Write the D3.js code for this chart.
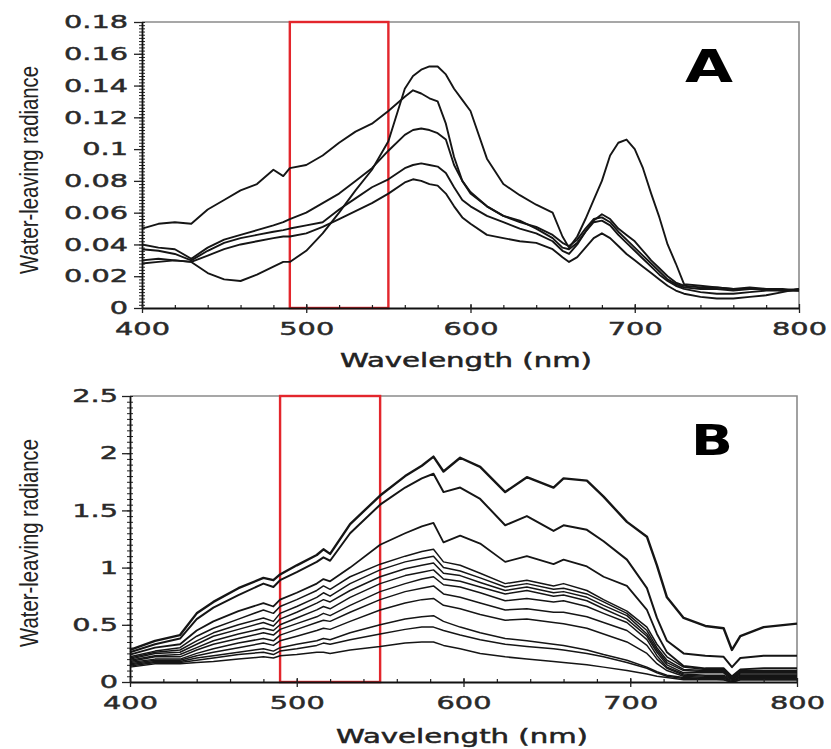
<!DOCTYPE html>
<html>
<head>
<meta charset="utf-8">
<script src="https://cdn.jsdelivr.net/npm/d3@7"></script>
<style>
  html, body { margin: 0; padding: 0; background: #fff; }
  svg { display: block; }
</style>
</head>
<body>
<svg id="chart" width="831" height="749"></svg>
<script>
// ---------------- DATA ----------------
// Panel A wavelengths (nm)
const wavelengthsA = [400,410,420,430,440,450,460,470,480,486,490,500,510,520,530,540,550,560,565,570,575,580,585,590,595,600,610,620,630,640,650,656,660,665,670,675,680,685,690,695,700,705,710,715,720,725,730,740,750,760,770,780,790,800];
const seriesA1 = [0.050,0.053,0.054,0.053,0.062,0.068,0.074,0.078,0.087,0.083,0.088,0.090,0.096,0.104,0.111,0.116,0.124,0.133,0.137,0.135,0.132,0.130,0.116,0.095,0.080,0.072,0.064,0.058,0.055,0.050,0.044,0.038,0.037,0.041,0.048,0.055,0.059,0.056,0.050,0.046,0.042,0.036,0.030,0.025,0.020,0.016,0.014,0.013,0.013,0.012,0.012,0.012,0.011,0.011];
const seriesA2 = [0.030,0.031,0.030,0.029,0.022,0.018,0.017,0.021,0.026,0.029,0.029,0.036,0.047,0.060,0.074,0.087,0.105,0.138,0.146,0.150,0.152,0.152,0.147,0.138,0.131,0.124,0.094,0.078,0.071,0.065,0.060,0.045,0.038,0.045,0.056,0.068,0.080,0.096,0.104,0.106,0.100,0.088,0.072,0.057,0.040,0.028,0.015,0.014,0.013,0.012,0.013,0.012,0.012,0.011];
const seriesA3 = [0.040,0.038,0.037,0.031,0.038,0.043,0.046,0.049,0.052,0.054,0.056,0.060,0.066,0.072,0.080,0.088,0.099,0.109,0.112,0.113,0.112,0.110,0.106,0.090,0.080,0.073,0.064,0.058,0.054,0.051,0.046,0.041,0.039,0.043,0.050,0.056,0.057,0.054,0.048,0.043,0.038,0.033,0.028,0.023,0.018,0.015,0.013,0.012,0.012,0.011,0.012,0.012,0.011,0.011];
const seriesA4 = [0.037,0.036,0.034,0.030,0.036,0.041,0.044,0.046,0.048,0.049,0.050,0.052,0.054,0.062,0.069,0.076,0.081,0.088,0.090,0.091,0.090,0.089,0.085,0.076,0.068,0.064,0.058,0.054,0.050,0.047,0.042,0.036,0.034,0.040,0.048,0.054,0.055,0.052,0.046,0.041,0.036,0.031,0.026,0.021,0.017,0.014,0.012,0.010,0.009,0.009,0.010,0.011,0.011,0.012];
const seriesA5 = [0.028,0.029,0.030,0.029,0.033,0.037,0.040,0.042,0.044,0.045,0.045,0.047,0.051,0.056,0.061,0.066,0.072,0.079,0.081,0.080,0.078,0.077,0.072,0.064,0.057,0.053,0.046,0.044,0.042,0.041,0.037,0.032,0.029,0.032,0.038,0.044,0.047,0.044,0.039,0.034,0.030,0.026,0.022,0.018,0.014,0.011,0.009,0.007,0.006,0.006,0.007,0.008,0.010,0.012];

// Panel B wavelengths (nm)
const wavelengthsB = [400,415,430,440,450,465,480,486,490,500,512,516,520,532,550,565,575,582,588,598,610,625,638,654,660,674,684,698,710,716,722,732,745,756,761,766,780,800];
const seriesB1 = [0.28,0.36,0.41,0.60,0.70,0.82,0.91,0.89,0.94,1.02,1.11,1.16,1.12,1.38,1.63,1.80,1.89,1.97,1.84,1.96,1.88,1.66,1.79,1.70,1.78,1.76,1.62,1.40,1.27,1.02,0.74,0.56,0.49,0.47,0.28,0.40,0.48,0.51];
const seriesB2 = [0.26,0.33,0.38,0.55,0.65,0.76,0.86,0.83,0.89,0.96,1.05,1.09,1.06,1.30,1.55,1.70,1.78,1.82,1.66,1.70,1.60,1.37,1.45,1.32,1.37,1.33,1.23,1.07,0.82,0.56,0.36,0.25,0.23,0.22,0.13,0.21,0.23,0.23];
const seriesB3 = [0.24,0.30,0.33,0.45,0.53,0.62,0.69,0.66,0.72,0.78,0.86,0.90,0.88,1.00,1.20,1.30,1.36,1.39,1.22,1.28,1.21,1.05,1.10,1.03,1.07,1.01,0.92,0.84,0.63,0.42,0.26,0.14,0.12,0.12,0.05,0.11,0.12,0.12];
const seriesB4 = [0.22,0.27,0.30,0.40,0.47,0.55,0.63,0.60,0.66,0.72,0.80,0.84,0.81,0.92,1.03,1.10,1.14,1.16,1.05,1.02,0.95,0.86,0.89,0.84,0.86,0.80,0.72,0.62,0.48,0.33,0.22,0.13,0.11,0.11,0.04,0.10,0.10,0.10];
const seriesB5 = [0.21,0.26,0.28,0.36,0.43,0.50,0.56,0.53,0.60,0.66,0.74,0.78,0.75,0.86,0.98,1.05,1.08,1.10,1.00,0.97,0.91,0.83,0.86,0.81,0.82,0.77,0.70,0.60,0.45,0.30,0.19,0.11,0.10,0.10,0.03,0.09,0.09,0.09];
const seriesB6 = [0.20,0.25,0.26,0.33,0.40,0.46,0.52,0.49,0.55,0.61,0.69,0.72,0.70,0.80,0.92,0.99,1.02,1.04,0.95,0.93,0.87,0.80,0.83,0.78,0.79,0.74,0.67,0.58,0.42,0.28,0.17,0.10,0.09,0.09,0.03,0.08,0.08,0.08];
const seriesB7 = [0.19,0.23,0.24,0.30,0.36,0.42,0.47,0.45,0.50,0.56,0.63,0.66,0.64,0.74,0.86,0.93,0.96,0.98,0.90,0.88,0.83,0.77,0.80,0.75,0.76,0.71,0.64,0.55,0.40,0.26,0.15,0.08,0.08,0.08,0.02,0.07,0.07,0.07];
const seriesB8 = [0.18,0.22,0.22,0.28,0.33,0.38,0.43,0.41,0.46,0.51,0.57,0.60,0.58,0.67,0.79,0.86,0.90,0.92,0.85,0.83,0.78,0.71,0.73,0.70,0.71,0.66,0.60,0.52,0.37,0.23,0.13,0.07,0.06,0.06,0.02,0.06,0.06,0.06];
const seriesB9 = [0.17,0.20,0.20,0.25,0.29,0.34,0.38,0.36,0.41,0.46,0.52,0.54,0.53,0.61,0.72,0.79,0.82,0.84,0.77,0.74,0.69,0.63,0.64,0.61,0.61,0.57,0.52,0.45,0.32,0.20,0.12,0.06,0.05,0.05,0.01,0.05,0.05,0.05];
const seriesB10 = [0.16,0.19,0.19,0.23,0.26,0.30,0.34,0.32,0.36,0.40,0.45,0.47,0.46,0.53,0.63,0.69,0.72,0.73,0.67,0.64,0.59,0.54,0.55,0.52,0.51,0.47,0.42,0.35,0.25,0.16,0.10,0.05,0.04,0.04,0.01,0.04,0.04,0.04];
const seriesB11 = [0.15,0.18,0.18,0.21,0.23,0.26,0.29,0.27,0.30,0.33,0.36,0.38,0.37,0.43,0.50,0.55,0.57,0.58,0.53,0.48,0.43,0.38,0.36,0.33,0.32,0.28,0.24,0.19,0.13,0.09,0.06,0.04,0.03,0.03,0.01,0.03,0.03,0.03];
const seriesB12 = [0.14,0.17,0.17,0.19,0.21,0.24,0.26,0.24,0.27,0.29,0.32,0.34,0.33,0.37,0.42,0.46,0.48,0.48,0.45,0.41,0.37,0.33,0.31,0.29,0.28,0.25,0.22,0.17,0.12,0.08,0.05,0.03,0.03,0.02,0.00,0.02,0.02,0.02];
const seriesB13 = [0.13,0.16,0.16,0.17,0.18,0.20,0.22,0.21,0.23,0.24,0.26,0.26,0.25,0.28,0.31,0.34,0.35,0.35,0.32,0.29,0.25,0.22,0.20,0.18,0.17,0.15,0.13,0.10,0.07,0.05,0.04,0.02,0.02,0.02,0.00,0.02,0.02,0.02];

// Ticks and labels
const xTicks = [400, 500, 600, 700, 800];
const xTickLabels = ["400", "500", "600", "700", "800"];
const yTicksA = [0, 0.02, 0.04, 0.06, 0.08, 0.1, 0.12, 0.14, 0.16, 0.18];
const yTickLabelsA = ["0", "0.02", "0.04", "0.06", "0.08", "0.1", "0.12", "0.14", "0.16", "0.18"];
const yTicksB = [0, 0.5, 1, 1.5, 2, 2.5];
const yTickLabelsB = ["0", "0.5", "1", "1.5", "2", "2.5"];
const highlightBand = [490, 550];
const panelLabels = ["A", "B"];
const xTitle = "Wavelength (nm)";
const yTitle = "Water-leaving radiance";

// ---------------- DRAW ----------------
const svg = d3.select("#chart");

function drawPanel(cfg) {
  const g = svg.append("g");
  const x = d3.scaleLinear().domain([400, 800]).range([cfg.left, cfg.right]);
  const y = d3.scaleLinear().domain(cfg.yDomain).range([cfg.bottom, cfg.top]);

  // frame (top/right, grey)
  g.append("path")
    .attr("d", `M${cfg.left},${cfg.top}H${cfg.right}V${cfg.bottom}`)
    .attr("fill", "none").attr("stroke", "#8a8a8a").attr("stroke-width", 1.6);

  // red highlight band
  g.append("rect")
    .attr("x", x(highlightBand[0])).attr("y", y(cfg.yDomain[1]))
    .attr("width", x(highlightBand[1]) - x(highlightBand[0]))
    .attr("height", y(cfg.yDomain[0]) - y(cfg.yDomain[1]))
    .attr("fill", "none").attr("stroke", "#e3262c").attr("stroke-width", 2.4);

  // spectra
  const line = d3.line().x(d => x(d[0])).y(d => y(d[1])).curve(d3.curveLinear);
  cfg.series.forEach((s, i) => {
    g.append("path")
      .datum(cfg.wl.map((w, k) => [w, s[k]]))
      .attr("d", line)
      .attr("fill", "none")
      .attr("stroke", "#151515")
      .attr("stroke-width", cfg.widths ? cfg.widths[i] : 1.9)
      .attr("stroke-linejoin", "round");
  });

  // minor ticks
  g.append("g").attr("transform", `translate(${cfg.left},0)`)
    .call(d3.axisLeft(y).tickValues(d3.range(cfg.yDomain[0], cfg.yDomain[1] + 1e-9, cfg.yMinor)).tickSize(3).tickSizeOuter(0).tickFormat(""))
    .call(a => a.select(".domain").remove())
    .call(a => a.selectAll(".tick line").attr("x2", 3).attr("x1", -3).attr("stroke", "#222").attr("stroke-width", 1));
  g.append("g").attr("transform", `translate(0,${cfg.bottom})`)
    .call(d3.axisBottom(x).tickValues(d3.range(420, 800, 20)).tickSize(3).tickSizeOuter(0).tickFormat(""))
    .call(a => a.select(".domain").remove())
    .call(a => a.selectAll(".tick line").attr("y2", -3).attr("stroke", "#222").attr("stroke-width", 1.2));

  // major y axis
  const gy = g.append("g").attr("transform", `translate(${cfg.left},0)`)
    .call(d3.axisLeft(y).tickValues(cfg.yTicks).tickSize(8).tickSizeOuter(0).tickPadding(cfg.yPad)
      .tickFormat((d, i) => cfg.yLabels[i]));
  gy.select(".domain").attr("stroke", "#111").attr("stroke-width", 1.8);
  gy.selectAll(".tick line").attr("stroke", "#222").attr("stroke-width", 1.3);
  gy.selectAll(".tick text")
    .attr("font-family", "DejaVu Sans").attr("font-size", 18).attr("fill", "#2a2a2a")
    .attr("stroke", "#2a2a2a").attr("stroke-width", 0.45)
    .each(function () {
      const t = d3.select(this);
      const xx = +t.attr("x");
      t.attr("x", 0).attr("transform", `translate(${xx},0) scale(1.6,1)`);
    });

  // major x axis
  const gx = g.append("g").attr("transform", `translate(0,${cfg.bottom})`)
    .call(d3.axisBottom(x).tickValues(xTicks).tickSize(5).tickSizeOuter(0).tickPadding(9)
      .tickFormat((d, i) => xTickLabels[i]));
  gx.select(".domain").attr("stroke", "#111").attr("stroke-width", 1.8);
  gx.selectAll(".tick line").attr("y1", -4).attr("stroke", "#222").attr("stroke-width", 1.3);
  gx.selectAll(".tick text")
    .attr("font-family", "DejaVu Sans").attr("font-size", 18).attr("fill", "#2a2a2a")
    .attr("stroke", "#2a2a2a").attr("stroke-width", 0.45)
    .attr("transform", "scale(1.6,1)");

  // axis titles
  g.append("text")
    .attr("x", cfg.xTitleX).attr("y", cfg.xTitleY)
    .attr("text-anchor", "middle")
    .attr("font-family", "DejaVu Sans").attr("font-size", 20).attr("fill", "#222")
    .attr("stroke", "#222").attr("stroke-width", 0.5)
    .attr("textLength", 252).attr("lengthAdjust", "spacingAndGlyphs")
    .text(xTitle);
  const yt = g.append("text")
    .attr("text-anchor", "middle")
    .attr("font-family", "Liberation Sans, Arial, sans-serif").attr("font-size", 26).attr("fill", "#222")
    .text(yTitle);
  const natural = yt.node().getComputedTextLength() || 260;
  const sx = 208 / natural;
  yt.attr("transform", `translate(${cfg.yTitleX},${cfg.yTitleY}) rotate(-90) scale(${sx},1)`);

  // panel letter
  g.append("text")
    .attr("x", cfg.letterX).attr("y", cfg.letterY)
    .attr("text-anchor", "middle")
    .attr("font-family", "DejaVu Sans").attr("font-weight", "bold").attr("font-size", cfg.letterSize).attr("fill", "#000")
    .attr("textLength", cfg.letterW).attr("lengthAdjust", "spacingAndGlyphs")
    .text(cfg.letter);
}

drawPanel({
  left: 142, right: 799, top: 22, bottom: 308,
  yDomain: [0, 0.18], yTicks: yTicksA, yLabels: yTickLabelsA, yMinor: 0.002, yPad: 6,
  wl: wavelengthsA,
  series: [seriesA1, seriesA2, seriesA3, seriesA4, seriesA5],
  xTitleX: 466, xTitleY: 367, yTitleX: 38, yTitleY: 170,
  letter: panelLabels[0], letterX: 709, letterY: 82, letterSize: 44, letterW: 48
});

drawPanel({
  left: 130, right: 797, top: 396, bottom: 682,
  yDomain: [0, 2.5], yTicks: yTicksB, yLabels: yTickLabelsB, yMinor: 0.05, yPad: 4,
  wl: wavelengthsB,
  series: [seriesB1, seriesB2, seriesB3, seriesB4, seriesB5, seriesB6, seriesB7, seriesB8, seriesB9, seriesB10, seriesB11, seriesB12, seriesB13],
  widths: [2.4, 2.0, 1.8, 1.5, 1.5, 1.5, 1.5, 1.5, 1.5, 1.5, 1.5, 1.5, 1.5],
  xTitleX: 462, xTitleY: 743, yTitleX: 38, yTitleY: 543,
  letter: panelLabels[1], letterX: 712, letterY: 455, letterSize: 42, letterW: 42
});
</script>
</body>
</html>
